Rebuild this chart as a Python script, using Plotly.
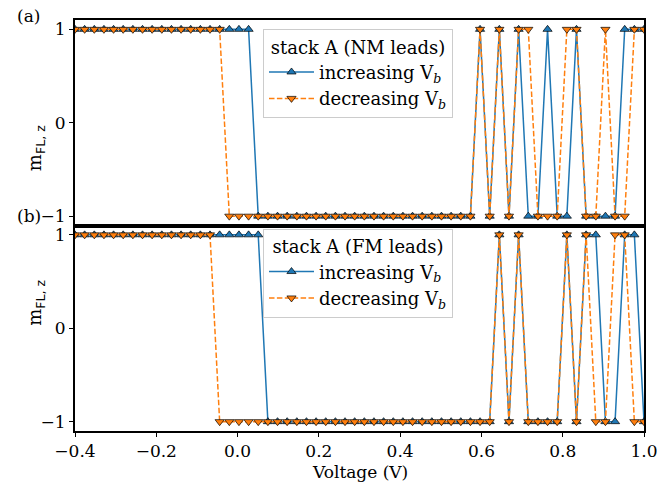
import plotly.graph_objects as go

voltage = [-0.4000, -0.3763, -0.3525, -0.3288, -0.3051, -0.2814, -0.2576, -0.2339, -0.2102, -0.1864,
           -0.1627, -0.1390, -0.1153, -0.0915, -0.0678, -0.0441, -0.0203, 0.0034, 0.0271, 0.0508,
           0.0746, 0.0983, 0.1220, 0.1458, 0.1695, 0.1932, 0.2169, 0.2407, 0.2644, 0.2881,
           0.3119, 0.3356, 0.3593, 0.3831, 0.4068, 0.4305, 0.4542, 0.4780, 0.5017, 0.5254,
           0.5492, 0.5729, 0.5966, 0.6203, 0.6441, 0.6678, 0.6915, 0.7153, 0.7390, 0.7627,
           0.7864, 0.8102, 0.8339, 0.8576, 0.8814, 0.9051, 0.9288, 0.9525, 0.9763, 1.0000]

a_increasing = [1, 1, 1, 1, 1, 1, 1, 1, 1, 1,
                1, 1, 1, 1, 1, 1, 1, 1, 1, -1,
                -1, -1, -1, -1, -1, -1, -1, -1, -1, -1,
                -1, -1, -1, -1, -1, -1, -1, -1, -1, -1,
                -1, -1, 1, -1, 1, -1, 1, -1, -1, 1,
                -1, -1, 1, -1, -1, -1, -1, 1, 1, 1]
a_decreasing = [1, 1, 1, 1, 1, 1, 1, 1, 1, 1,
                1, 1, 1, 1, 1, 1, -1, -1, -1, -1,
                -1, -1, -1, -1, -1, -1, -1, -1, -1, -1,
                -1, -1, -1, -1, -1, -1, -1, -1, -1, -1,
                -1, -1, 1, -1, 1, -1, 1, 1, -1, -1,
                -1, 1, 1, -1, -1, 1, -1, -1, 1, 1]
b_increasing = [1, 1, 1, 1, 1, 1, 1, 1, 1, 1,
                1, 1, 1, 1, 1, 1, 1, 1, 1, 1,
                -1, -1, -1, -1, -1, -1, -1, -1, -1, -1,
                -1, -1, -1, -1, -1, -1, -1, -1, -1, -1,
                -1, -1, -1, -1, 1, -1, 1, -1, -1, -1,
                -1, 1, -1, 1, 1, -1, -1, 1, 1, -1]
b_decreasing = [1, 1, 1, 1, 1, 1, 1, 1, 1, 1,
                1, 1, 1, 1, 1, -1, -1, -1, -1, -1,
                -1, -1, -1, -1, -1, -1, -1, -1, -1, -1,
                -1, -1, -1, -1, -1, -1, -1, -1, -1, -1,
                -1, -1, -1, -1, 1, -1, 1, -1, -1, -1,
                -1, 1, -1, 1, -1, -1, 1, 1, -1, -1]

panel_titles = ["stack A (NM leads)", "stack A (FM leads)"]
x_ticks = [-0.4, -0.2, 0.0, 0.2, 0.4, 0.6, 0.8, 1.0]
y_ticks = [-1, 0, 1]

BLUE = "#1f77b4"
ORANGE = "#ff7f0e"
SERIF = "DejaVu Serif"

# target plot area in window px
PL, PR, PT, PB = 75, 644, 19.6, 431.5
W, H = 657, 485


def px(xw):
    return (xw - PL) / (PR - PL)


def py(yw):
    return (PB - yw) / (PB - PT)


fig = go.Figure()

panels = [("x", "y", "legend", a_increasing, a_decreasing),
          ("x2", "y2", "legend2", b_increasing, b_decreasing)]
for xa, ya, lg, inc, dec in panels:
    fig.add_trace(go.Scatter(
        x=voltage, y=inc, xaxis=xa, yaxis=ya, legend=lg, mode="lines+markers",
        name="increasing V<sub><i>b</i></sub>",
        line=dict(color=BLUE, width=1.5),
        marker=dict(symbol="triangle-up", size=8, color=BLUE, line=dict(color="black", width=0.7)),
    ))
    fig.add_trace(go.Scatter(
        x=voltage, y=dec, xaxis=xa, yaxis=ya, legend=lg, mode="lines+markers",
        name="decreasing V<sub><i>b</i></sub>",
        line=dict(color=ORANGE, width=1.5, dash="5.5px,2.4px"),
        marker=dict(symbol="triangle-down", size=8, color=ORANGE, line=dict(color="black", width=0.7)),
    ))

axis_common = dict(showline=True, linecolor="black", linewidth=2, mirror=True,
                   showgrid=False, zeroline=False, ticklen=4,
                   tickwidth=1, tickcolor="black",
                   tickfont=dict(family=SERIF, size=17, color="black"))

legend_common = dict(xanchor="left", yanchor="top", font=dict(family=SERIF, size=18),
                     bgcolor="white", bordercolor="#cccccc", borderwidth=1, tracegroupgap=0,
                     itemwidth=45)

fig.update_layout(
    width=W, height=H,
    margin=dict(l=PL, r=W - PR, t=PT, b=H - PB, autoexpand=False),
    plot_bgcolor="white", paper_bgcolor="white",
    font=dict(family=SERIF, size=17, color="black"),
    xaxis=dict(domain=[0, 1], anchor="y", range=[-0.4, 1.0], tickvals=x_ticks,
               showticklabels=False, matches="x2", ticks="", **axis_common),
    yaxis=dict(domain=[0.5, 1], anchor="x", range=[-1.1, 1.1], tickvals=y_ticks,
               ticks="outside", **axis_common),
    xaxis2=dict(domain=[0, 1], anchor="y2", range=[-0.4, 1.0], tickvals=x_ticks,
                tickformat=".1f", ticks="outside", ticklabeloverflow="allow", **axis_common),
    yaxis2=dict(domain=[0, 0.5], anchor="x2", range=[-1.1, 1.1], tickvals=y_ticks,
                ticks="outside", **axis_common),
    legend=dict(x=px(263), y=py(29),
                title=dict(text=panel_titles[0], side="top center", font=dict(family=SERIF, size=18)),
                **legend_common),
    legend2=dict(x=px(263), y=py(229),
                 title=dict(text=panel_titles[1], side="top center", font=dict(family=SERIF, size=18)),
                 **legend_common),
    showlegend=True,
)

ylab = "m<sub><span style='font-family:DejaVu Sans'>FL, z</span></sub>"
fig.add_annotation(text=ylab, xref="paper", yref="paper", x=px(22), y=py(123),
                   textangle=-90, showarrow=False, font=dict(family=SERIF, size=18))
fig.add_annotation(text=ylab, xref="paper", yref="paper", x=px(22), y=py(328),
                   textangle=-90, showarrow=False, font=dict(family=SERIF, size=18))
fig.add_annotation(text="Voltage (V)", xref="paper", yref="paper", x=px(359.5), y=py(473),
                   yanchor="middle", showarrow=False, font=dict(family=SERIF, size=17))
fig.add_annotation(text="(a)", xref="paper", yref="paper", x=px(15), y=py(16),
                   yanchor="middle", showarrow=False, font=dict(family=SERIF, size=17))
fig.add_annotation(text="(b)", xref="paper", yref="paper", x=px(15), y=py(216),
                   yanchor="middle", showarrow=False, font=dict(family=SERIF, size=17))

fig.write_html("out.html", config={"displayModeBar": False},
               post_script="document.body.style.margin='0';document.body.style.padding='0';")
